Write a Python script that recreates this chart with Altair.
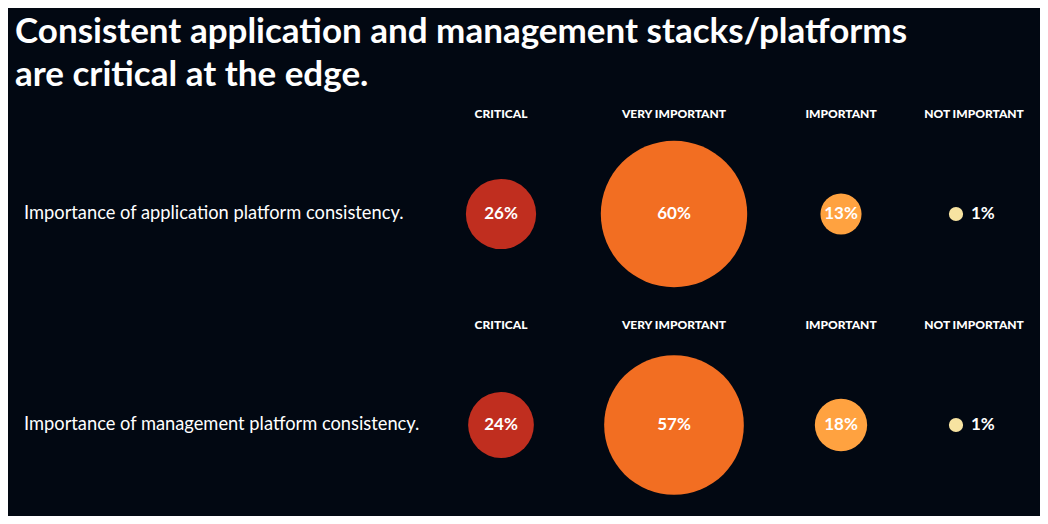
import altair as alt
import pandas as pd

categories = ["CRITICAL", "VERY IMPORTANT", "IMPORTANT", "NOT IMPORTANT"]
questions = [
    "Importance of application platform consistency.",
    "Importance of management platform consistency.",
]
application_values = [26, 60, 13, 1]
management_values = [24, 57, 18, 1]
category_colors = ["#C02E1F", "#F26E22", "#FFA240", "#F7E3A1"]
title_lines = [
    "Consistent application and management stacks/platforms",
    "are critical at the edge.",
]

records = []
for r, (q, vals) in enumerate(zip(questions, [application_values, management_values])):
    for c, (cat, v) in enumerate(zip(categories, vals)):
        records.append({"row": r, "question": q, "col": c, "category": cat, "value": v})
df = pd.DataFrame(records)

BG = "#020812"
FONT = "Lato"

x_scale = alt.Scale(domain=[0, 1, 2, 3], range=[486, 659, 826, 959], zero=False, nice=False)
y_scale = alt.Scale(domain=[0, 1], range=[114, 325], zero=False, nice=False)

base = alt.Chart(df).transform_calculate(
    label="datum.value + '%'",
    area="pow(12 + 2.24 * datum.value, 2)",
).encode(
    x=alt.X("col:Q", scale=x_scale, axis=None),
    y=alt.Y("row:Q", scale=y_scale, axis=None),
)

color = alt.Color("category:N", scale=alt.Scale(domain=categories, range=category_colors), legend=None)

headers = base.mark_text(
    font=FONT, fontWeight=900, fontSize=12, color="white", dy=-100, baseline="middle"
).encode(text="category:N")

big = base.transform_filter("datum.value >= 5")
small = base.transform_filter("datum.value < 5")

big_circles = big.mark_circle(opacity=1).encode(
    size=alt.Size("area:Q", scale=None), color=color
)
big_labels = big.mark_text(
    font=FONT, fontWeight="bold", fontSize=17, color="white", baseline="middle"
).encode(text="label:N")

small_circles = small.mark_circle(opacity=1, xOffset=-18).encode(
    size=alt.Size("area:Q", scale=None), color=color
)
small_labels = small.mark_text(
    font=FONT, fontWeight="bold", fontSize=17, color="white", baseline="middle",
    align="left", dx=-3,
).encode(text="label:N")

row_labels = base.transform_filter("datum.col == 0").mark_text(
    font=FONT, fontSize=18.3, color="white", align="left", baseline="middle"
).encode(x=alt.value(9), text="question:N")

chart = alt.layer(
    headers, big_circles, big_labels, small_circles, small_labels, row_labels
).properties(
    width=1025,
    height=416,
    padding={"left": 7, "top": 92, "right": 0, "bottom": 0},
    autosize=alt.AutoSizeParams(type="none"),
    background=BG,
    title=alt.Title(
        title_lines, anchor="start", frame="group", font=FONT, fontSize=35,
        fontWeight="bold", color="white", lineHeight=43, offset=7,
    ),
).configure_view(stroke=None)

chart.save("out.html", embed_options={"renderer": "svg", "actions": False})
